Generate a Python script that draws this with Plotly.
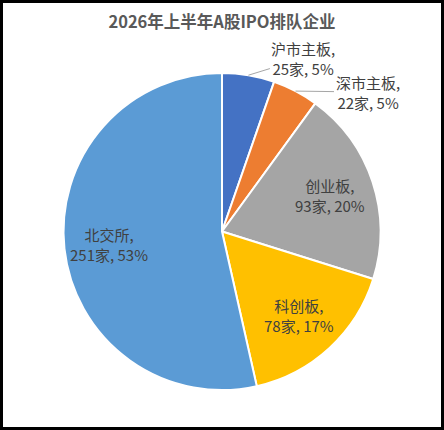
import math
import plotly.graph_objects as go

# data
boards = ["沪市主板", "深市主板", "创业板", "科创板", "北交所"]
companies = [25, 22, 93, 78, 251]
pct_labels = ["5%", "5%", "20%", "17%", "53%"]
colors = ["#4472C4", "#ED7D31", "#A5A5A5", "#FFC000", "#5B9BD5"]

W, H = 444, 430
cx, cy, r = 222, 231.5, 158.5   # pie centre / radius in pixels (from top-left)

# label placement: inside ones sit at 72% of radius, outside ones get pixel offsets
outside_shift = {"沪市主板": (55, -17), "深市主板": (72, 1)}
inside_frac = 0.72

pie = go.Pie(
    labels=boards,
    values=companies,
    textinfo="none",
    marker=dict(colors=colors, line=dict(color="white", width=2)),
    sort=False,
    direction="clockwise",
    rotation=0,
    domain=dict(x=[(cx - r) / W, (cx + r) / W],
                y=[(H - cy - r) / H, (H - cy + r) / H]),
    hoverinfo="label+value+percent",
)

# slice labels placed at each slice's mid angle
annotations = []
total = sum(companies)
cum = 0
for b, n, p in zip(boards, companies, pct_labels):
    mid = (cum + n / 2) / total * 2 * math.pi
    cum += n
    txt = f"{b},<br>{n}家, {p}"
    font = dict(family="Noto Sans CJK SC", size=15, color="#404040")
    if b in outside_shift:
        px = cx + r * math.sin(mid)
        py = cy - r * math.cos(mid)
        dx, dy = outside_shift[b]
        annotations.append(dict(
            x=px / W, y=1 - py / H, xref="paper", yref="paper",
            text=txt, font=font, showarrow=True, arrowhead=0,
            arrowwidth=1, arrowcolor="#A6A6A6", ax=dx, ay=dy, standoff=0,
        ))
    else:
        px = cx + inside_frac * r * math.sin(mid)
        py = cy - inside_frac * r * math.cos(mid)
        annotations.append(dict(
            x=px / W, y=1 - py / H, xref="paper", yref="paper",
            xanchor="center", yanchor="middle",
            text=txt, font=font, showarrow=False,
        ))

fig = go.Figure(data=[pie])
fig.update_layout(
    width=W,
    height=H,
    margin=dict(l=0, r=0, t=0, b=0),
    paper_bgcolor="white",
    showlegend=False,
    title=dict(
        text="<b>2026年上半年A股IPO排队企业</b>",
        x=0.5,
        xanchor="center",
        y=1 - 22 / H,
        yanchor="middle",
        font=dict(family="Noto Sans CJK SC", size=16.5, color="#595959"),
    ),
    annotations=annotations,
    shapes=[dict(
        type="rect", xref="paper", yref="paper",
        x0=1.5 / W, x1=1 - 1.5 / W, y0=1.5 / H, y1=1 - 1.5 / H,
        line=dict(color="black", width=3),
    )],
)

fig.write_html("out.html", config={"displayModeBar": False},
               post_script="document.body.style.margin='0';")
